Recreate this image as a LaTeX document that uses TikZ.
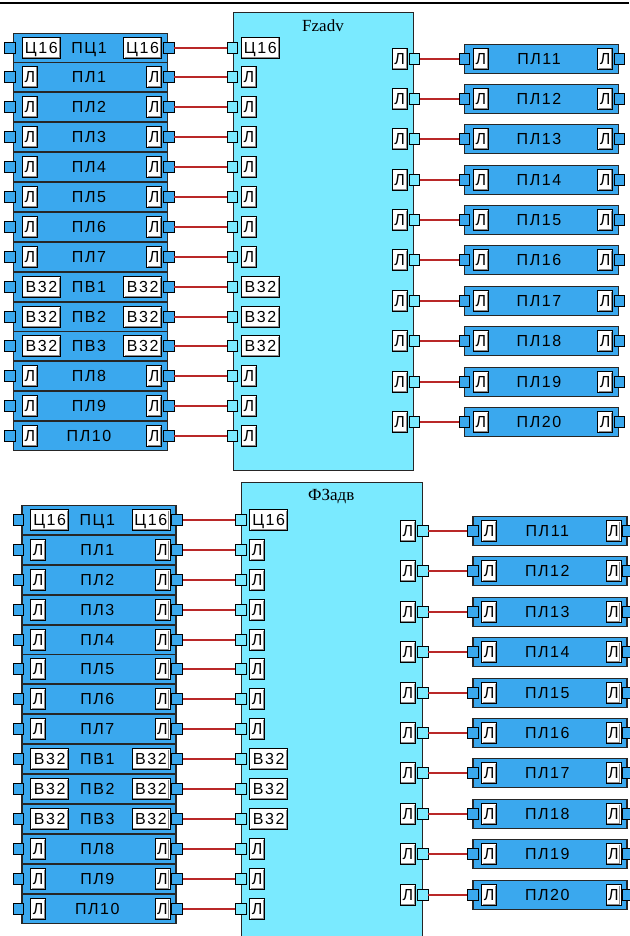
\documentclass[tikz,border=0pt]{standalone}
\usepackage{fontspec}
\setmainfont{Liberation Sans}
\newfontfamily\lblfam{Liberation Sans}[LetterSpace=10]
\newfontfamily\ttlfam{Liberation Serif}
\newcommand\lblfont{\lblfam\fontsize{16}{16}\selectfont}
\newcommand\ttlfont{\ttlfam\fontsize{17}{17}\selectfont}
\definecolor{blk}{RGB}{58,168,238}
\definecolor{cyanb}{RGB}{122,234,255}
\definecolor{wirec}{RGB}{185,40,40}
\tikzset{
 rowbox/.style={draw=black!85, line width=1.2pt, fill=blk, minimum width=154pt, minimum height=28.7pt, inner sep=0pt},
 portbox/.style={draw=black, line width=0.8pt, fill=blk, minimum width=10.5pt, minimum height=11.5pt, inner sep=0pt},
 cport/.style={portbox, fill=cyanb},
 lbox/.style={draw=black, line width=0.8pt, fill=white, minimum height=21pt, inner sep=0pt,
   font=\lblfont, text height=11pt, text depth=0pt,
   path picture={\draw[black!45,line width=1.1pt]
     ([shift={(-1pt,-1pt)}]path picture bounding box.north east) --
     ([shift={(-1pt,1pt)}]path picture bounding box.south east) --
     ([shift={(1pt,1pt)}]path picture bounding box.south west);}},
 rowtext/.style={font=\lblfont, inner sep=0pt, text height=11pt, text depth=0pt},
 wire/.style={draw=wirec, line width=2pt},
 fzbox/.style={draw=black!85, line width=1.1pt, fill=cyanb, inner sep=0pt},
}
\newcommand\unitdraw[8]{%
 \pgfmathsetmacro\bh{#6-#5}%
 \pgfmathsetmacro\bw{180+0.6*#2/8}%
 \node[fzbox, minimum width=\bw pt, minimum height=\bh pt, anchor=north west] (#1F) at (233+#2,#5) {};
 \node[font=\ttlfont, inner sep=0pt] (#1T) at (323+#2,#8) {#7};
 \foreach \nm/\lb/\w [count=\i from 0] in {ПЦ1/Ц16/38, ПЛ1/Л/15, ПЛ2/Л/15, ПЛ3/Л/15, ПЛ4/Л/15, ПЛ5/Л/15, ПЛ6/Л/15, ПЛ7/Л/15, ПВ1/В32/38, ПВ2/В32/38, ПВ3/В32/38, ПЛ8/Л/15, ПЛ9/Л/15, ПЛ10/Л/15}{
  \pgfmathsetmacro\yy{round(#3+29.9*\i)}
  \node[rowbox, anchor=west] (#1R\i) at (13+#2,\yy) {};
  \node[rowtext] (#1RT\i) at (89+#2,\yy) {\nm};
  \node[lbox, minimum width=\w pt, anchor=west] (#1RA\i) at (22+#2,\yy) {\lb};
  \node[lbox, minimum width=\w pt, anchor=east] (#1RB\i) at (162+#2,\yy) {\lb};
  \node[portbox] (#1RP\i) at (10+#2,\yy) {};
  \node[portbox] (#1RQ\i) at (168.7+#2,\yy) {};
  \node[cport] (#1FP\i) at (232.5+#2,\yy) {};
  \node[lbox, minimum width=\w pt, anchor=west] (#1FA\i) at (241+#2,\yy) {\lb};
  \draw[wire] (#1RQ\i) -- (#1FP\i);
 }
 \foreach \nm [count=\j from 0] in {ПЛ11, ПЛ12, ПЛ13, ПЛ14, ПЛ15, ПЛ16, ПЛ17, ПЛ18, ПЛ19, ПЛ20}{
  \pgfmathsetmacro\yy{round(#4+40.4*\j)}
  \node[lbox, minimum width=15pt, anchor=east] (#1OA\j) at (407.5+#2,\yy) {Л};
  \node[cport] (#1OP\j) at (414.5+#2,\yy) {};
  \node[rowbox, anchor=west] (#1S\j) at (464+#2,\yy) {};
  \node[rowtext] (#1ST\j) at (539+#2,\yy) {\nm};
  \node[lbox, minimum width=15pt, anchor=west] (#1SA\j) at (473+#2,\yy) {Л};
  \node[lbox, minimum width=15pt, anchor=east] (#1SB\j) at (613+#2,\yy) {Л};
  \node[portbox] (#1SP\j) at (464.5+#2,\yy) {};
  \node[portbox] (#1SQ\j) at (619.5+#2,\yy) {};
  \draw[wire] (#1OP\j) -- (#1SP\j);
 }
}
\begin{document}
\begin{tikzpicture}[x=1pt,y=-1pt]
\useasboundingbox (0,0) rectangle (629,936);
\fill[white] (0,0) rectangle (629,936);
\coordinate (topL) at (0,3);
\coordinate (topR) at (629,3);
\draw[line width=2.6pt] (topL) -- (topR);
\unitdraw{A}{0}{47.5}{58.5}{12}{470}{Fzadv}{26}
\unitdraw{B}{8.3}{520}{531}{482}{950}{ФЗадв}{497}
\end{tikzpicture}
\end{document}
